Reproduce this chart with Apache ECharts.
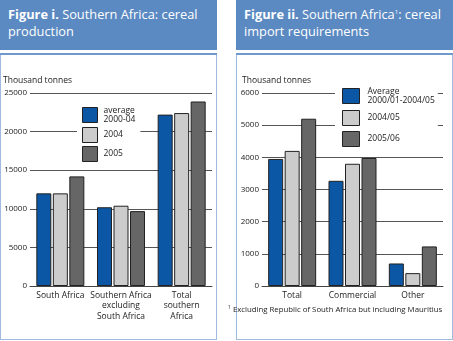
<!DOCTYPE html>
<html>
<head>
<meta charset="utf-8">
<script src="https://cdn.jsdelivr.net/npm/echarts@6/dist/echarts.min.js"></script>
<style>
  body { margin: 0; background: #fff; font-family: "Open Sans", sans-serif; }
  #page { position: relative; width: 453px; height: 341px; overflow: hidden; }
  .head { position: absolute; top: 0; height: 50px; width: 217px; background: #5b89c2; color: #fff;
          font-size: 12.8px; line-height: 17px; box-sizing: border-box; padding: 6px 0 0 8px; }
  .head b { font-weight: bold; }
  .head sup { font-size: 6px; line-height: 0; vertical-align: 5px; }
  .strip { position: absolute; top: 53px; height: 2px; width: 217px; background: #6f98cc; }
  .box { position: absolute; top: 55px; height: 285px; width: 217px; box-sizing: border-box;
         border: 1px solid #9fbbe0; border-top: none; }
  .chart { position: absolute; top: 0; height: 341px; }
  #note { position: absolute; left: 228px; top: 304px; font-size: 7.8px; color: #222; white-space: nowrap; }
  #note sup { font-size: 5px; vertical-align: 3px; line-height: 0; }
</style>
</head>
<body>
<div id="page">
  <div class="head" style="left:0"><b>Figure i.</b> Southern Africa: cereal<br>production</div>
  <div class="head" style="left:236px"><b>Figure ii.</b> Southern Africa<sup>1</sup>: cereal<br>import requirements</div>
  <div class="strip" style="left:0"></div>
  <div class="strip" style="left:236px"></div>
  <div class="box" style="left:0"></div>
  <div class="box" style="left:236px"></div>
  <div id="chartProd" class="chart" style="left:0;width:226px"></div>
  <div id="chartImport" class="chart" style="left:226px;width:227px"></div>
  <div id="note"><sup>1</sup> Excluding Republic of South Africa but including Mauritius</div>
</div>
<script>
var prodCategories = ['South Africa', 'Southern Africa\nexcluding\nSouth Africa', 'Total\nsouthern\nAfrica'];
var prodNames = ['average\n2000-04', '2004', '2005'];
var prodAvg = [12000, 10200, 22200];
var prod2004 = [12000, 10400, 22400];
var prod2005 = [14200, 9700, 23900];

var impCategories = ['Total', 'Commercial', 'Other'];
var impNames = ['Average\n2000/01-2004/05', '2004/05', '2005/06'];
var impAvg = [3950, 3270, 700];
var imp0405 = [4200, 3800, 400];
var imp0506 = [5200, 3980, 1230];

var barColors = ['#0b57a5', '#cccccc', '#666666'];
var font = 'Open Sans';

function buildOption(cfg) {
    var seriesData = cfg.values;
    return {
        animation: false,
        textStyle: { fontFamily: font },
        title: {
            text: 'Thousand tonnes',
            left: cfg.titleLeft,
            top: 76,
            padding: 0,
            textStyle: { fontSize: 8.5, fontWeight: 'normal', color: '#222', fontFamily: font }
        },
        legend: {
            orient: 'vertical',
            left: cfg.legend.left,
            top: cfg.legend.top,
            padding: cfg.legend.padding,
            backgroundColor: '#fff',
            itemWidth: cfg.legend.itemWidth,
            itemHeight: 15,
            itemGap: cfg.legend.itemGap,
            icon: 'rect',
            data: cfg.names,
            itemStyle: { borderColor: '#222', borderWidth: 1 },
            textStyle: { fontSize: 8.5, color: '#222', fontFamily: font, lineHeight: 9,
                         padding: [0, 0, 0, cfg.legend.textPad] }
        },
        grid: { left: cfg.gridLeft, width: cfg.gridWidth, top: 93, height: 193 },
        xAxis: {
            type: 'category',
            data: cfg.categories,
            axisLine: { lineStyle: { color: '#444', width: 1 } },
            axisTick: { show: false },
            axisLabel: { margin: 4, fontSize: 8.5, color: '#222', lineHeight: 10.5, interval: 0, fontFamily: font }
        },
        yAxis: {
            type: 'value',
            min: 0,
            max: cfg.max,
            interval: cfg.interval,
            axisLine: { show: false },
            axisTick: { show: false },
            axisLabel: { margin: 3, fontSize: 8, color: '#222', fontFamily: font,
                         formatter: function (v) { return String(v); } },
            splitLine: { lineStyle: { color: '#555', width: 1 } }
        },
        series: cfg.names.map(function (name, i) {
            return {
                name: name,
                type: 'bar',
                barWidth: 15,
                barGap: '10%',
                itemStyle: { color: barColors[i], borderColor: '#222', borderWidth: 1 },
                data: seriesData[i]
            };
        })
    };
}

var prodChart = echarts.init(document.getElementById('chartProd'));
prodChart.setOption(buildOption({
    categories: prodCategories,
    names: prodNames,
    values: [prodAvg, prod2004, prod2005],
    max: 25000,
    interval: 5000,
    titleLeft: 3,
    gridLeft: 30,
    gridWidth: 182,
    legend: { left: 77, top: 103, padding: [3, 5, 3, 5], itemWidth: 15, itemGap: 3, textPad: 1 }
}));

var impChart = echarts.init(document.getElementById('chartImport'));
impChart.setOption(buildOption({
    categories: impCategories,
    names: impNames,
    values: [impAvg, imp0405, imp0506],
    max: 6000,
    interval: 1000,
    titleLeft: 16,
    gridLeft: 36,
    gridWidth: 181,
    legend: { left: 109, top: 84, padding: [3, 3, 3, 7], itemWidth: 17, itemGap: 5, textPad: 3 }
}));
</script>
</body>
</html>
